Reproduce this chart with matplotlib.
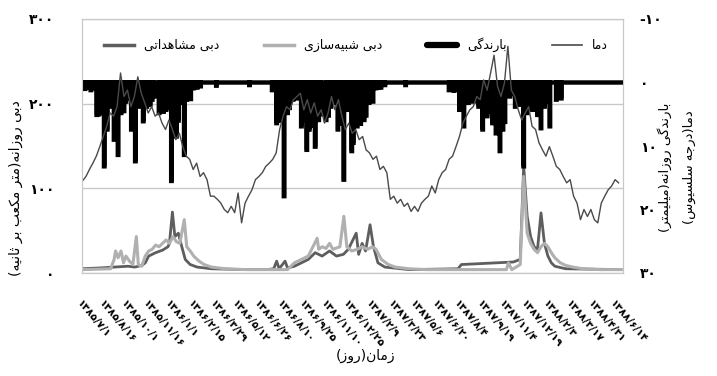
import matplotlib
matplotlib.use("Agg")
import matplotlib.pyplot as plt
from matplotlib.lines import Line2D
import numpy as np

# ---- data ----
# day index 0 = 1385/7/1, ticks every 45 days
n_days = 1096
tick_labels = ['۱۳۸۵/۷/۱', '۱۳۸۵/۸/۱۶', '۱۳۸۵/۱۰/۱', '۱۳۸۵/۱۱/۱۶', '۱۳۸۶/۱/۱',
               '۱۳۸۶/۲/۱۵', '۱۳۸۶/۳/۲۹', '۱۳۸۶/۵/۱۲', '۱۳۸۶/۶/۲۶', '۱۳۸۶/۸/۱۰',
               '۱۳۸۶/۹/۲۵', '۱۳۸۶/۱۱/۱۰', '۱۳۸۶/۱۲/۲۵', '۱۳۸۷/۲/۹', '۱۳۸۷/۳/۲۳',
               '۱۳۸۷/۵/۶', '۱۳۸۷/۶/۲۰', '۱۳۸۷/۸/۴', '۱۳۸۷/۹/۱۹', '۱۳۸۷/۱۱/۴',
               '۱۳۸۷/۱۲/۱۹', '۱۳۸۸/۲/۳', '۱۳۸۸/۳/۱۷', '۱۳۸۸/۴/۳۱', '۱۳۸۸/۶/۱۴']
tick_step = 45

# temperature (deg C), one value every 7 days
temp_step = 7
temp = [15.5, 14.8, 13.7, 12.7, 11.6, 10.1, 8.5, 6.9, 4.8, 5.3,
        3.8, -1.5, 2.2, 1.2, 3.8, 2.2, -0.9, 1.7, 3.2, 4.8,
        3.8, 5.3, 4.8, 6.4, 7.4, 5.9, 7.4, 9.0, 8.0, 10.1,
        11.6, 12.1, 13.7, 12.7, 14.8, 14.2, 15.3, 17.9, 17.9, 18.4,
        19.0, 20.0, 20.5, 19.5, 20.5, 17.4, 22.1, 19.0, 17.9, 16.9,
        15.3, 14.8, 14.2, 13.2, 12.7, 12.1, 11.1, 7.4, 5.3, 3.8,
        4.3, 2.7, 2.2, 1.7, 4.3, 2.7, 4.8, 3.2, 5.3, 4.3,
        6.4, 4.8, 2.2, 4.3, 2.7, 5.3, 7.4, 6.4, 8.0, 7.4,
        9.0, 8.5, 10.6, 11.1, 12.1, 11.6, 13.7, 13.2, 14.2, 18.4,
        17.9, 19.0, 18.4, 19.5, 19.0, 20.3, 19.5, 20.3, 19.0, 18.4,
        17.9, 16.3, 17.4, 15.3, 14.2, 13.7, 12.1, 11.6, 10.1, 8.5,
        6.4, 5.3, 4.3, 3.8, 2.2, 2.7, -0.4, 1.2, -1.5, -4.3,
        0.6, 2.2, 0.1, -5.7, 1.2, 2.2, 4.3, 5.9, 4.8, 3.8,
        6.9, 7.4, 9.5, 10.6, 11.6, 10.1, 11.6, 13.2, 13.7, 14.8,
        15.8, 15.3, 17.9, 19.0, 21.6, 20.0, 21.1, 20.0, 21.6, 22.1,
        19.0, 17.9, 16.9, 16.3, 15.3, 15.8]

# daily rainfall events (mm)
rain_day = [6, 12, 18, 25, 30, 32, 34, 36, 38, 40, 45, 51, 55, 58, 61, 65, 68, 73,
            79, 82, 85, 89, 93, 100, 104, 108, 114, 118, 124, 131, 135, 138, 142, 146,
            156, 160, 165, 170, 174, 178, 181, 188, 191, 195, 198, 207, 212, 216, 220,
            226, 233, 240, 272, 339,
            385, 389, 394, 398, 401, 409, 416, 420, 427, 431, 436, 444, 448, 455, 460,
            464, 472, 479, 484, 494, 499, 504, 509, 518, 522, 530, 536, 541, 546, 549,
            557, 561, 564, 571, 575, 581, 585, 589, 595, 600, 605, 613, 655,
            743, 748, 753, 758, 761, 764, 768, 773, 782, 787, 792, 796, 803, 807, 811,
            820, 824, 831, 838, 842, 846, 852, 856, 866, 870, 877, 882, 886, 894, 901,
            905, 912, 915, 922, 929, 936, 940, 947, 960, 965, 970]
rain_mm = [1.0, 0.8, 1.2, 0.9, 5.1, 4.5, 5.0, 3.5, 4.8, 2.0, 13.2, 7.4, 3.8, 2.5, 3.6, 9.0, 8.2, 11.4,
           4.8, 3.5, 4.5, 3.0, 2.5, 7.4, 6.5, 12.4, 3.8, 3.0, 6.1, 3.8, 2.8, 3.5, 2.7, 2.2,
           4.8, 4.2, 4.6, 4.3, 3.8, 4.0, 15.5, 7.5, 8.5, 6.0, 3.2, 11.4, 2.7, 2.4, 2.6,
           0.9, 0.8, 0.6, 0.5, 0.4,
           1.2, 1.0, 6.4, 5.5, 6.0, 17.9, 4.8, 4.0, 2.7, 2.2, 2.5, 6.9, 6.0, 10.6, 7.4,
           6.8, 10.1, 5.9, 5.0, 5.9, 5.2, 3.8, 3.2, 7.4, 6.5, 15.3, 4.3, 3.5, 10.8, 9.5,
           6.9, 6.0, 6.5, 5.9, 5.2, 3.2, 2.8, 3.0, 0.9, 0.7, 0.8, 0.4, 0.4,
           1.2, 1.0, 1.3, 0.9, 1.1, 4.3, 3.5, 6.9, 3.2, 2.6, 3.0, 2.8, 3.8, 3.4, 7.4,
           5.3, 4.5, 6.4, 8.0, 7.2, 10.8, 7.4, 6.2, 2.2, 1.8, 3.8, 3.2, 3.5, 13.2, 4.8,
           4.0, 4.3, 3.8, 5.1, 7.2, 3.8, 3.0, 6.9, 2.7, 2.2, 2.5]

# observed discharge (m3/s)
obs_day = [0, 37, 65, 93, 107, 121, 128, 135, 149, 163, 174, 177, 183, 188, 195, 202, 209,
           219, 233, 262, 332, 374, 388, 394, 399, 411, 416, 430, 444, 458, 472, 486,
           501, 515, 529, 539, 555, 560, 567, 574, 583, 590, 599, 613, 662, 761,
           768, 803, 838, 873, 887, 894, 901, 908, 915, 922, 929, 936, 943, 950, 957,
           979, 1091]
obs_q = [5, 6, 7, 8, 7, 9, 12, 20, 24, 27, 31, 35, 72, 43, 47, 31, 16,
         10, 7, 5, 4, 4, 5, 14, 5, 14, 6, 8, 12, 16, 24, 20,
         26, 20, 22, 28, 47, 22, 35, 26, 57, 31, 12, 7, 4, 5,
         10, 11, 12, 13, 16, 126, 67, 43, 31, 28, 71, 35, 20, 12, 8,
         5, 4]

# simulated discharge (m3/s)
sim_day = [0, 58, 65, 68, 73, 79, 84, 89, 96, 103, 110, 114, 121, 128, 135, 142, 149,
           156, 163, 170, 177, 184, 191, 198, 207, 212, 219, 226, 237, 247, 262, 290,
           332, 416, 430, 444, 458, 476, 479, 486, 494, 501, 508, 522, 530, 536, 546,
           557, 567, 578, 588, 595, 606, 620, 634, 662, 697, 859, 863, 870, 887, 894,
           901, 908, 915, 922, 929, 936, 943, 950, 957, 968, 979, 993, 1014, 1049, 1091]
sim_q = [4, 5, 16, 26, 18, 26, 12, 20, 14, 10, 43, 10, 8, 20, 26, 28, 33,
         31, 35, 39, 35, 43, 37, 35, 63, 31, 26, 20, 14, 10, 7, 5,
         4, 4, 12, 16, 20, 41, 28, 31, 29, 35, 28, 31, 67, 31, 26,
         28, 31, 28, 31, 28, 16, 10, 7, 5, 4, 4, 12, 4, 10, 114,
         47, 35, 28, 24, 31, 35, 31, 24, 18, 12, 9, 7, 5, 4, 4]

# ---- minimal Persian shaping (no reshaper library available) ----
FORMS = {
    'ا': ('\uFE8D', '\uFE8E', None, None),
    'ب': ('\uFE8F', '\uFE90', '\uFE91', '\uFE92'),
    'ت': ('\uFE95', '\uFE96', '\uFE97', '\uFE98'),
    'ث': ('\uFE99', '\uFE9A', '\uFE9B', '\uFE9C'),
    'ج': ('\uFE9D', '\uFE9E', '\uFE9F', '\uFEA0'),
    'د': ('\uFEA9', '\uFEAA', None, None),
    'ر': ('\uFEAD', '\uFEAE', None, None),
    'ز': ('\uFEAF', '\uFEB0', None, None),
    'س': ('\uFEB1', '\uFEB2', '\uFEB3', '\uFEB4'),
    'ش': ('\uFEB5', '\uFEB6', '\uFEB7', '\uFEB8'),
    'ع': ('\uFEC9', '\uFECA', '\uFECB', '\uFECC'),
    'ل': ('\uFEDD', '\uFEDE', '\uFEDF', '\uFEE0'),
    'م': ('\uFEE1', '\uFEE2', '\uFEE3', '\uFEE4'),
    'ن': ('\uFEE5', '\uFEE6', '\uFEE7', '\uFEE8'),
    'ه': ('\uFEE9', '\uFEEA', '\uFEEB', '\uFEEC'),
    'و': ('\uFEED', '\uFEEE', None, None),
    'ک': ('\uFB8E', '\uFB8F', '\uFB90', '\uFB91'),
    'گ': ('\uFB92', '\uFB93', '\uFB94', '\uFB95'),
    'ی': ('\uFBFC', '\uFBFD', '\uFBFE', '\uFBFF'),
}


def fa(s):
    out = []
    for i, c in enumerate(s):
        if c not in FORMS:
            if c != '\u200c':
                out.append(c)
            continue
        iso, fin, ini, med = FORMS[c]
        prev = s[i - 1] if i > 0 else ''
        nxt = s[i + 1] if i + 1 < len(s) else ''
        pj = prev in FORMS and FORMS[prev][2] is not None
        nj = nxt in FORMS and ini is not None
        if pj and nj:
            out.append(med)
        elif pj:
            out.append(fin)
        elif nj:
            out.append(ini)
        else:
            out.append(iso)
    vis = ''.join(reversed(out))
    return vis.translate(str.maketrans('()', ')('))


# ---- plot ----
OBS_C = '#5e5e5e'
SIM_C = '#b0b0b0'
TEMP_C = '#4a4a4a'
GRID_C = '#c8c8c8'

rain = np.zeros(n_days)
rain[rain_day] = rain_mm
days = np.arange(n_days)
temp_day = np.arange(len(temp)) * temp_step + 1

fig = plt.figure(figsize=(7.17, 3.76), dpi=100)
ax = fig.add_axes([82 / 717, 1 - 273 / 376, 541 / 717, 254 / 376])
ax2 = ax.twinx()

ax.plot(obs_day, obs_q, color=OBS_C, lw=2.0, zorder=3)
ax.plot(sim_day, sim_q, color=SIM_C, lw=2.2, zorder=4)
ax.set_ylim(0, 300)
ax.set_xlim(0, n_days - 1)
ax.set_yticks([0, 100, 200, 300])
ax.set_yticklabels(['۰', '۱۰۰', '۲۰۰', '۳۰۰'], fontsize=10, fontweight='bold')
ax.yaxis.grid(True, color=GRID_C, lw=1)
ax.set_axisbelow(True)

ax2.plot(days, rain, color='black', lw=3.2, drawstyle='steps-mid', solid_joinstyle='miter')
ax2.plot(temp_day, temp, color=TEMP_C, lw=1.0)
ax2.set_ylim(30, -10)
ax2.set_yticks([-10, 0, 10, 20, 30])
ax2.set_yticklabels(['-۱۰', '۰', '۱۰', '۲۰', '۳۰'], fontsize=10, fontweight='bold')

ax.set_xticks(np.arange(len(tick_labels)) * tick_step)
ax.set_xticklabels(tick_labels, rotation=-50, ha='left', va='top',
                   rotation_mode='anchor', fontsize=7.5, fontweight='bold')

for a in (ax, ax2):
    a.tick_params(length=0)
    for sp in a.spines.values():
        sp.set_color(GRID_C)
ax.tick_params(axis='y', pad=20)
ax2.tick_params(axis='y', pad=12)
ax.tick_params(axis='x', pad=18)

handles = [Line2D([], [], color=OBS_C, lw=2.5),
           Line2D([], [], color=SIM_C, lw=2.5),
           Line2D([], [], color='black', lw=4.5, solid_capstyle='round'),
           Line2D([], [], color=TEMP_C, lw=1.2)]
names = [fa('دبی مشاهداتی'), fa('دبی شبیه‌سازی'), fa('بارندگی'), fa('دما')]
ax2.legend(handles, names, ncol=4, loc='center', bbox_to_anchor=(0.506, 0.898),
           frameon=False, fontsize=9, handlelength=2.4, handletextpad=0.8,
           columnspacing=3.6)

fig.text(0.022, 0.50, fa('دبی روزانه(متر مکعب بر ثانیه)'), rotation=90,
         ha='center', va='center', fontsize=10)
fig.text(0.927, 0.555, fa('بارندگی روزانه(میلیمتر)'), rotation=90,
         ha='center', va='center', fontsize=9.5)
fig.text(0.962, 0.555, fa('دما(درجه سلسیوس)'), rotation=90,
         ha='center', va='center', fontsize=9.5)
fig.text(0.51, 0.053, fa('زمان(روز)'), ha='center', va='center', fontsize=10)

fig.savefig('out.png', dpi=100)
